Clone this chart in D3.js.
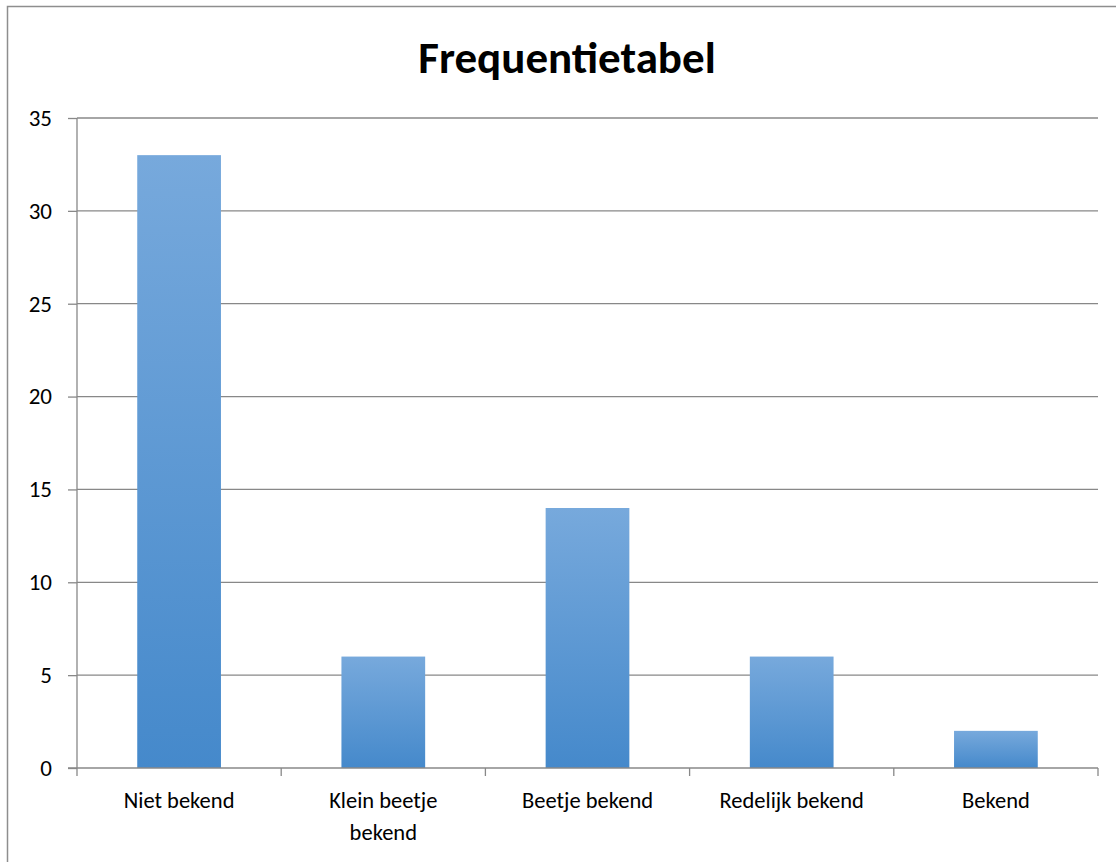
<!DOCTYPE html>
<html>
<head>
<meta charset="utf-8">
<script src="https://cdn.jsdelivr.net/npm/d3@7"></script>
<style>
  body { margin: 0; background: #fff; }
  svg text { font-family: Calibri, Carlito, Lato, "Open Sans", sans-serif; fill: #000; }
</style>
</head>
<body>
<div id="canvas"></div>
<script>
// Datos de la grafica
const categories = ["Niet bekend", "Klein beetje bekend", "Beetje bekend", "Redelijk bekend", "Bekend"];
const values = [33, 6, 14, 6, 2];
const yTicks = [0, 5, 10, 15, 20, 25, 30, 35];
const title = "Frequentietabel";

const width = 1116;
const height = 862;
const margin = {top: 118, left: 77, bottom: 94, right: 18};
const iwidth = width - margin.left - margin.right;
const iheight = height - margin.top - margin.bottom;

const svg = d3.select("#canvas").append("svg")
    .attr("width", width)
    .attr("height", height);

// borde del area del grafico
svg.append("rect")
    .attr("x", 7.5).attr("y", 6.5)
    .attr("width", 1200).attr("height", 1000)
    .attr("fill", "none")
    .attr("stroke", "#8e8e8e")
    .attr("stroke-width", 1.5);

// degradado de las barras
const grad = svg.append("defs").append("linearGradient")
    .attr("id", "barGrad")
    .attr("x1", 0).attr("y1", 0).attr("x2", 0).attr("y2", 1);
grad.append("stop").attr("offset", "0%").attr("stop-color", "#77a9dc");
grad.append("stop").attr("offset", "100%").attr("stop-color", "#4589cb");

svg.append("text")
    .attr("x", 567)
    .attr("y", 73)
    .attr("text-anchor", "middle")
    .style("font-size", "45px")
    .style("font-weight", "bold")
    .text(title);

const g = svg.append("g").attr("transform", `translate(${margin.left}, ${margin.top})`);

const x = d3.scaleBand()
    .domain(categories)
    .range([0, iwidth])
    .paddingInner(0.59)
    .paddingOuter(0.295);

const y = d3.scaleLinear()
    .domain([0, 35])
    .range([iheight, 0]);

// lineas de la cuadricula
g.append("g")
    .selectAll("line")
    .data(yTicks.filter(d => d > 0))
    .enter()
    .append("line")
    .attr("x1", 0).attr("x2", iwidth)
    .attr("y1", d => y(d)).attr("y2", d => y(d))
    .attr("stroke", "#888")
    .attr("stroke-width", 1.3);

// barras
g.selectAll("rect.bar").data(values)
    .enter()
    .append("rect")
    .attr("class", "bar")
    .attr("x", (d, i) => x(categories[i]))
    .attr("y", d => y(d))
    .attr("width", x.bandwidth())
    .attr("height", d => iheight - y(d))
    .attr("fill", "url(#barGrad)");

// eje y
const yAxis = g.append("g")
    .call(d3.axisLeft(y).tickValues(yTicks).tickSize(9).tickPadding(16));
yAxis.selectAll("line, path").attr("stroke", "#888").attr("stroke-width", 1.3);
yAxis.select(".domain").attr("d", `M0,${iheight}V0`);
yAxis.selectAll("text").style("font-size", "23px").attr("fill", "#000");

// eje x con marcas entre categorias
const xAxis = g.append("g").attr("transform", `translate(0, ${iheight})`);
xAxis.append("line")
    .attr("x1", -9).attr("x2", iwidth)
    .attr("stroke", "#888").attr("stroke-width", 1.3);
const step = x.step();
const bounds = d3.range(categories.length + 1).map(i => i * step);
xAxis.selectAll("line.tick")
    .data(bounds)
    .enter()
    .append("line")
    .attr("class", "tick")
    .attr("x1", d => d).attr("x2", d => d)
    .attr("y1", 0).attr("y2", 8)
    .attr("stroke", "#888").attr("stroke-width", 1.3);

// etiquetas de categoria (con salto de linea)
const labelLines = {"Klein beetje bekend": ["Klein beetje", "bekend"]};
categories.forEach(c => {
    const lines = labelLines[c] || [c];
    const t = xAxis.append("text")
        .attr("text-anchor", "middle")
        .style("font-size", "22.5px")
        .attr("x", x(c) + x.bandwidth() / 2)
        .attr("y", 40);
    lines.forEach((l, i) => {
        t.append("tspan")
            .attr("x", x(c) + x.bandwidth() / 2)
            .attr("dy", i === 0 ? 0 : 32)
            .text(l);
    });
});
</script>
</body>
</html>
